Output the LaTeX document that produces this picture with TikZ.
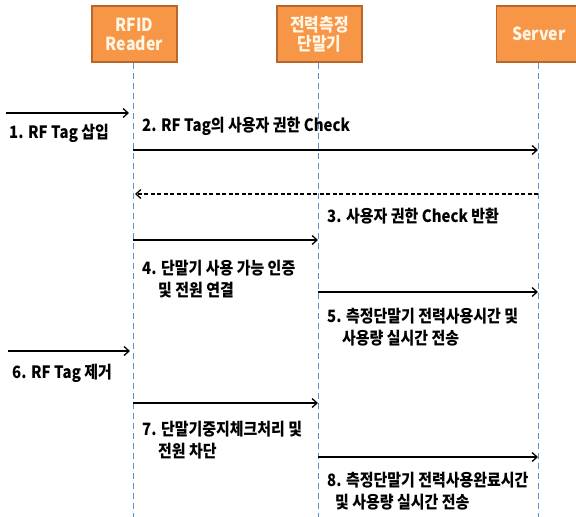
\documentclass[tikz,border=0pt]{standalone}
\usepackage{fontspec}
\setmainfont{Noto Sans CJK KR}
\newfontfamily\krnarrow{Noto Sans CJK KR}[FakeStretch=0.88]
\usetikzlibrary{arrows.meta}
\definecolor{boxfill}{HTML}{F79646}
\definecolor{boxline}{HTML}{B8672C}
\definecolor{boxtext}{HTML}{FFF6E6}
\definecolor{lifeblue}{HTML}{5B8FC7}
\tikzset{
  actor/.style={draw=boxline, line width=1.2pt, fill=boxfill, minimum width=85pt, minimum height=56pt,
    text=boxtext, font=\krnarrow\bfseries\fontsize{18}{19}\selectfont, align=center, inner sep=0pt},
  life/.style={draw=lifeblue, line width=0.7pt, dash pattern=on 6pt off 4pt},
  msg/.style={draw=black, line width=1.3pt, -{Straight Barb[length=5pt,width=9pt,line width=1.3pt]}},
  ret/.style={msg, dash pattern=on 4pt off 2.5pt},
  lbl/.style={anchor=west, font=\krnarrow\bfseries\fontsize{17}{22}\selectfont, align=left, inner sep=0pt}
}
\begin{document}
\begin{tikzpicture}[x=1pt,y=-1pt]
\clip (0,0) rectangle (576,517);
\fill[white] (0,0) rectangle (576,517);
% actors
\node[actor] (reader) at (134.5,34) {RFID\\Reader};
\node[actor] (meter) at (319.5,34) {전력측정\\단말기};
\node[actor] (server) at (539,34) {Server};
% lifelines
\coordinate (rEnd) at (133,517);
\coordinate (mEnd) at (318,517);
\coordinate (sEnd) at (538,517);
\draw[life] (reader.south -| rEnd) -- (rEnd);
\draw[life] (meter.south -| mEnd) -- (mEnd);
\draw[life] (server.south -| sEnd) -- (sEnd);
% message end points
\coordinate (a1s) at (6,113);   \coordinate (a1e) at (129,113);
\coordinate (a2s) at (133,150); \coordinate (a2e) at (538,150);
\coordinate (a3s) at (538,194); \coordinate (a3e) at (135,194);
\coordinate (a4s) at (133,240); \coordinate (a4e) at (318,240);
\coordinate (a5s) at (318,292); \coordinate (a5e) at (538,292);
\coordinate (a6s) at (8,351);   \coordinate (a6e) at (130,351);
\coordinate (a7s) at (133,403); \coordinate (a7e) at (318,403);
\coordinate (a8s) at (318,457); \coordinate (a8e) at (538,457);
\draw[msg] (a1s) -- (a1e);
\draw[msg] (a2s) -- (a2e);
\draw[ret] (a3s) -- (a3e);
\draw[msg] (a4s) -- (a4e);
\draw[msg] (a5s) -- (a5e);
\draw[msg] (a6s) -- (a6e);
\draw[msg] (a7s) -- (a7e);
\draw[msg] (a8s) -- (a8e);
% labels
\node[lbl] (l1) at (9,133) {1. RF Tag 삽입};
\node[lbl] (l2) at (142,126) {2. RF Tag의 사용자 권한 Check};
\node[lbl] (l3) at (327,216) {3. 사용자 권한 Check 반환};
\node[lbl] (l4) at (142,279) {4. 단말기 사용 가능 인증\\\hspace*{16pt}및 전원 연결};
\node[lbl] (l5) at (327,327) {5. 측정단말기 전력사용시간 및\\\hspace*{15pt}사용량 실시간 전송};
\node[lbl] (l6) at (12,373) {6. RF Tag 제거};
\node[lbl] (l7) at (142,440) {7. 단말기중지체크처리 및\\\hspace*{16pt}전원 차단};
\node[lbl] (l8) at (327,491) {8. 측정단말기 전력사용완료시간\\\hspace*{8pt}및 사용량 실시간 전송};
\end{tikzpicture}
\end{document}
